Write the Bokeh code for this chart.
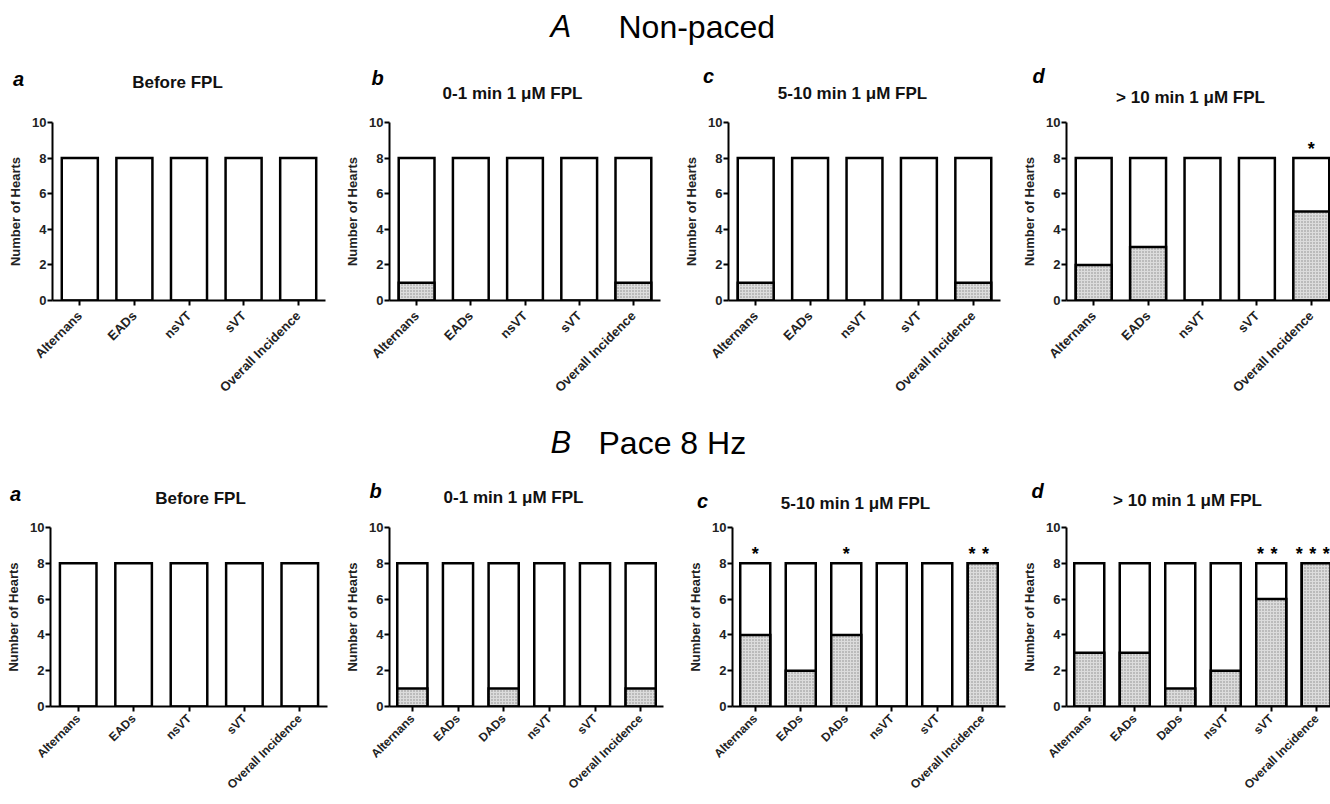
import math
from bokeh.plotting import figure
from bokeh.layouts import column, row
from bokeh.models import Range1d, FixedTicker, ColumnDataSource
from bokeh.core.properties import value
from bokeh.embed import file_html
from bokeh.resources import INLINE

FONT = "Liberation Sans"
TOTAL = 8  # hearts per group

# ---------------- data ----------------
cats_np = ["Alternans", "EADs", "nsVT", "sVT", "Overall Incidence"]
cats_p = ["Alternans", "EADs", "DADs", "nsVT", "sVT", "Overall Incidence"]
cats_pd = ["Alternans", "EADs", "DaDs", "nsVT", "sVT", "Overall Incidence"]

np_a = [0, 0, 0, 0, 0]
np_b = [1, 0, 0, 0, 1]
np_c = [1, 0, 0, 0, 1]
np_d = [2, 3, 0, 0, 5]
np_d_stars = [0, 0, 0, 0, 1]

p_a = [0, 0, 0, 0, 0]
p_b = [1, 0, 1, 0, 0, 1]
p_c = [4, 2, 4, 0, 0, 8]
p_c_stars = [1, 0, 1, 0, 0, 2]
p_d = [3, 3, 1, 2, 6, 8]
p_d_stars = [0, 0, 0, 0, 2, 3]

letters = ["a", "b", "c", "d"]
titles = ["Before FPL", "0-1 min 1 \u03bcM FPL", "5-10 min 1 \u03bcM FPL", "> 10 min 1 \u03bcM FPL"]
header_A = ["A", "Non-paced"]
header_B = ["B", "Pace 8 Hz"]

TXT = "#222222"
PAGE_W = 1330

# ---------------- layout (page pixels) ----------------
strip1 = (0, 106)
row1 = (106, 422)
strip2 = (422, 512)
row2 = (512, 804)
cols = [(0, 340), (340, 676), (676, 1018), (1018, PAGE_W)]

top_frames = [(52, 325, 120, 302), (389, 660, 118, 300), (728, 1000, 119, 301), (1066, PAGE_W, 122, 303)]
top_spacing = [273 / 5, 271 / 5, 272 / 5, 272 / 5]
top_letters = [(18, 78), (377, 77), (708, 75), (1038, 75)]
top_titles = [(177, 82), (512, 93), (852, 93), (1190, 97)]

bot_frames = [(50, 327, 526, 707), (389, 663, 524, 706), (732, 1005, 525, 707), (1066, PAGE_W, 527, 708)]
bot_spacing = [277 / 5, 274 / 6, 273 / 6, 273 / 6]
bot_letters = [(15, 493), (375, 490), (702, 500), (1037, 490)]
bot_titles = [(200, 498), (513, 497), (855, 503), (1187, 500)]


def make_panel(box, frame, spacing, cats, inc, stars, xlab_size, xlab_standoff):
    fx0, fx1, fy0, fy1 = box
    L, R, T, B = frame
    n = len(cats)
    x_end = (R - L) / spacing
    p = figure(width=fx1 - fx0, height=fy1 - fy0, output_backend="svg",
               toolbar_location=None, title=None,
               x_range=Range1d(0, x_end), y_range=Range1d(0, 10),
               min_border_left=L - fx0, min_border_right=fx1 - R,
               min_border_top=T - fy0, min_border_bottom=fy1 - B)
    p.outline_line_color = None
    p.xgrid.visible = False
    p.ygrid.visible = False

    xs = [i + 0.5 for i in range(n)]
    src = ColumnDataSource(dict(x=xs, total=[TOTAL] * n))
    p.vbar(x="x", top="total", bottom=0, width=0.66, source=src,
           fill_color="white", line_color="black", line_width=2.5, line_join="miter")
    idx = [i for i, v in enumerate(inc) if v > 0]
    if idx:
        p.vbar(x=[xs[i] for i in idx], top=[inc[i] for i in idx], bottom=0, width=0.66,
               fill_color="#dcdcdc", hatch_pattern="dot", hatch_color="#8a8a8a",
               hatch_scale=3, hatch_weight=1,
               line_color="black", line_width=2.5, line_join="miter")

    if stars:
        sx, sy, st, so = [], [], [], []
        for i, k in enumerate(stars):
            shift = -4 if k > 1 else 0
            for j in range(k):
                sx.append(xs[i]); sy.append(TOTAL); st.append("*")
                so.append(shift + (j - (k - 1) / 2) * 13.5)
        p.text(x=sx, y=sy, text=st, x_offset=so, y_offset=-9,
               text_align="center", text_baseline="middle",
               text_font=value(FONT), text_font_style="bold",
               text_font_size="18px", text_color="black")

    for ax in (p.xaxis[0], p.yaxis[0]):
        ax.axis_line_width = 2
        ax.axis_line_color = "black"
        ax.major_tick_line_width = 2
        ax.major_tick_line_color = "black"
        ax.major_tick_out = 5
        ax.major_tick_in = 0
        ax.minor_tick_line_color = None
        ax.major_label_text_font = FONT
        ax.major_label_text_font_style = "bold"
        ax.major_label_text_color = TXT

    xa = p.xaxis[0]
    xa.ticker = FixedTicker(ticks=xs)
    xa.major_label_overrides = {x: c for x, c in zip(xs, cats)}
    xa.major_label_orientation = math.pi / 4
    xa.major_label_text_font_size = xlab_size
    xa.major_label_standoff = xlab_standoff

    ya = p.yaxis[0]
    ya.ticker = FixedTicker(ticks=[0, 2, 4, 6, 8, 10])
    ya.major_label_text_font_size = "13px"
    ya.major_label_standoff = 1
    ya.axis_label = "Number of Hearts"
    ya.axis_label_text_font = FONT
    ya.axis_label_text_font_style = "bold"
    ya.axis_label_text_font_size = "13px"
    ya.axis_label_text_color = TXT
    ya.axis_label_standoff = 6
    return p


def make_strip(band, header, header_mid, header_x, let_pos, tit_pos):
    y0, y1 = band
    H = y1 - y0
    p = figure(width=PAGE_W, height=H, output_backend="svg", toolbar_location=None,
               x_range=Range1d(0, PAGE_W), y_range=Range1d(H, 0), min_border=0,
               x_axis_location=None, y_axis_location=None, title=None)
    p.outline_line_color = None
    p.xgrid.visible = False
    p.ygrid.visible = False
    # section header
    p.text(x=[header_x[0]], y=[header_mid - y0], text=[header[0]],
           text_font=value(FONT), text_font_style="italic", text_font_size="31px",
           text_align="left", text_baseline="middle", text_color="black")
    p.text(x=[header_x[1]], y=[header_mid - y0], text=[header[1]],
           text_font=value(FONT), text_font_style="normal", text_font_size="32px",
           text_align="left", text_baseline="middle", text_color="black")
    # panel letters
    p.text(x=[q[0] for q in let_pos], y=[q[1] - y0 for q in let_pos], text=letters,
           text_font=value(FONT), text_font_style="bold italic", text_font_size="20px",
           text_align="center", text_baseline="middle", text_color="black")
    # panel titles
    p.text(x=[q[0] for q in tit_pos], y=[q[1] - y0 for q in tit_pos], text=titles,
           text_font=value(FONT), text_font_style="bold", text_font_size="17px",
           text_align="center", text_baseline="middle", text_color="#111111")
    return p


top_data = [(cats_np, np_a, None), (cats_np, np_b, None), (cats_np, np_c, None), (cats_np, np_d, np_d_stars)]
bot_data = [(cats_np, p_a, None), (cats_p, p_b, None), (cats_p, p_c, p_c_stars), (cats_pd, p_d, p_d_stars)]

top_row = []
for i in range(4):
    c, inc, st = top_data[i]
    top_row.append(make_panel((cols[i][0], cols[i][1], row1[0], row1[1]), top_frames[i],
                              top_spacing[i], c, inc, st, "13px", 8))
bot_row = []
for i in range(4):
    c, inc, st = bot_data[i]
    bot_row.append(make_panel((cols[i][0], cols[i][1], row2[0], row2[1]), bot_frames[i],
                              bot_spacing[i], c, inc, st, "12px", 5))

s1 = make_strip(strip1, header_A, 26, (550, 618), top_letters, top_titles)
s2 = make_strip(strip2, header_B, 442, (550, 598), bot_letters, bot_titles)

layout = column(s1, row(*top_row), s2, row(*bot_row))

with open("out.html", "w") as f:
    f.write(file_html(layout, INLINE))
